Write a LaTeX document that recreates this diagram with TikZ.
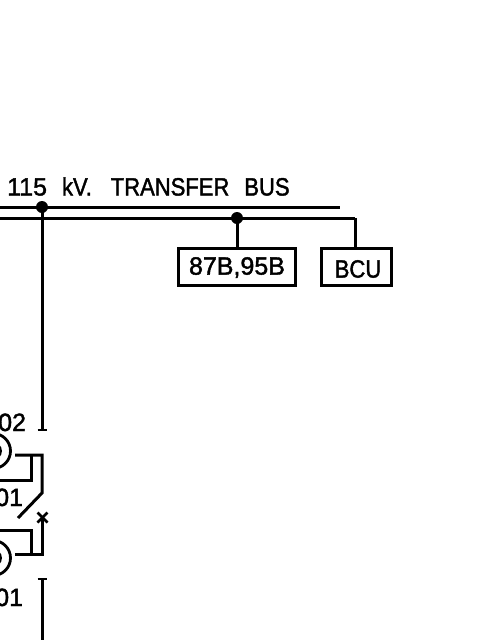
\documentclass[tikz,border=0pt]{standalone}
\usepackage{fontspec}
\setmainfont[FakeBold=1.6]{Liberation Sans}
\newfontfamily\narrowcad[FakeBold=1.6,FakeStretch=0.88]{Liberation Sans}
\tikzset{
  wire/.style={line width=3pt,line cap=butt,line join=miter},
  thin wire/.style={line width=2.6pt},
  dotj/.style={circle,fill=black,inner sep=0pt,minimum size=12pt},
  framebox/.style={draw,line width=2.8pt,inner sep=0pt},
  ctring/.style={draw,circle,line width=2.8pt,inner sep=0pt},
  lbl/.style={inner sep=0pt,anchor=base west,font=\fontsize{25}{25}\selectfont},
}
\begin{document}
\begin{tikzpicture}[x=1pt,y=-1pt]
\useasboundingbox (0,0) rectangle (480,640);
\fill[white] (0,0) rectangle (480,640);
\clip (0,0) rectangle (480,640);
% labels
\node[lbl] (title) at (7,195.5) {115\hspace{15pt}{\narrowcad kV.\hspace{19pt}TRANSFER\hspace{15pt}BUS}};
\node[lbl] (ta) at (-2,431) {02};
\node[lbl] (tb) at (-5,506) {01};
\node[lbl] (tc) at (-5,606) {01};
% bus lines
\coordinate (b1l) at (0,207); \coordinate (b1r) at (340,207);
\coordinate (b2l) at (0,218); \coordinate (b2c) at (355,218);
\draw[wire] (b1l) -- (b1r);
\draw[wire] (b2l) -- (b2c);
% boxes
\node[framebox,minimum width=117pt,minimum height=37pt] (r1) at (237,267) {};
\node[framebox,minimum width=70pt,minimum height=37pt] (r2) at (356.5,267) {};
\node[inner sep=0pt,font=\fontsize{25}{25}\selectfont] (r1t) at (237,267.5) {87B,95B};
\node[inner sep=0pt,font=\narrowcad\fontsize{25}{25}\selectfont] (r2t) at (358,269) {BCU};
% junctions
\node[dotj] (j1) at (42,207) {};
\node[dotj] (j2) at (237,218) {};
\draw[wire] (j2.center) -- (r1.north -| j2);
\draw[wire] (b2c) -- (b2c |- r2.north);
% feeder
\coordinate (t1) at (42,430);
\coordinate (t1a) at (37.5,430); \coordinate (t1b) at (47,430);
\draw[wire] (j1.center) -- (t1);
\draw[thin wire] (t1a) -- (t1b);
% CTs
\node[ctring,minimum size=35pt] (ct1) at (-7,451) {};
\node[ctring,minimum size=35pt] (ct2) at (-7,558) {};
\node[ctring,minimum size=15pt] (ct1i) at (-7,451) {};
\node[ctring,minimum size=15pt] (ct2i) at (-7,558) {};
% switch upper
\coordinate (u0) at (15,455); \coordinate (u1) at (42,455); \coordinate (u2) at (42,493);
\coordinate (u3) at (18,518);
\draw[wire] (u0) -- (u1) -- (u2) -- (u3);
\coordinate (ub) at (31,455); \coordinate (ub1) at (31,480); \coordinate (ub2) at (0,480);
\draw[wire] (ub) -- (ub1) -- (ub2);
% switch lower
\coordinate (x) at (42,517);
\coordinate (l0) at (15,554); \coordinate (l1) at (42,554);
\draw[wire] (x) -- (l1) -- (l0);
\coordinate (lb) at (31,554); \coordinate (lb1) at (31,530); \coordinate (lb2) at (0,530);
\draw[wire] (lb) -- (lb1) -- (lb2);
\draw[thin wire] (37.5,512.5) -- (47.5,522.5);
\draw[thin wire] (37.5,522.5) -- (47.5,512.5);
% bottom
\coordinate (t2) at (42,579); \coordinate (t2e) at (42,640);
\draw[wire] (t2) -- (t2e);
\draw[thin wire] (37.5,579) -- (47,579);
\end{tikzpicture}
\end{document}
